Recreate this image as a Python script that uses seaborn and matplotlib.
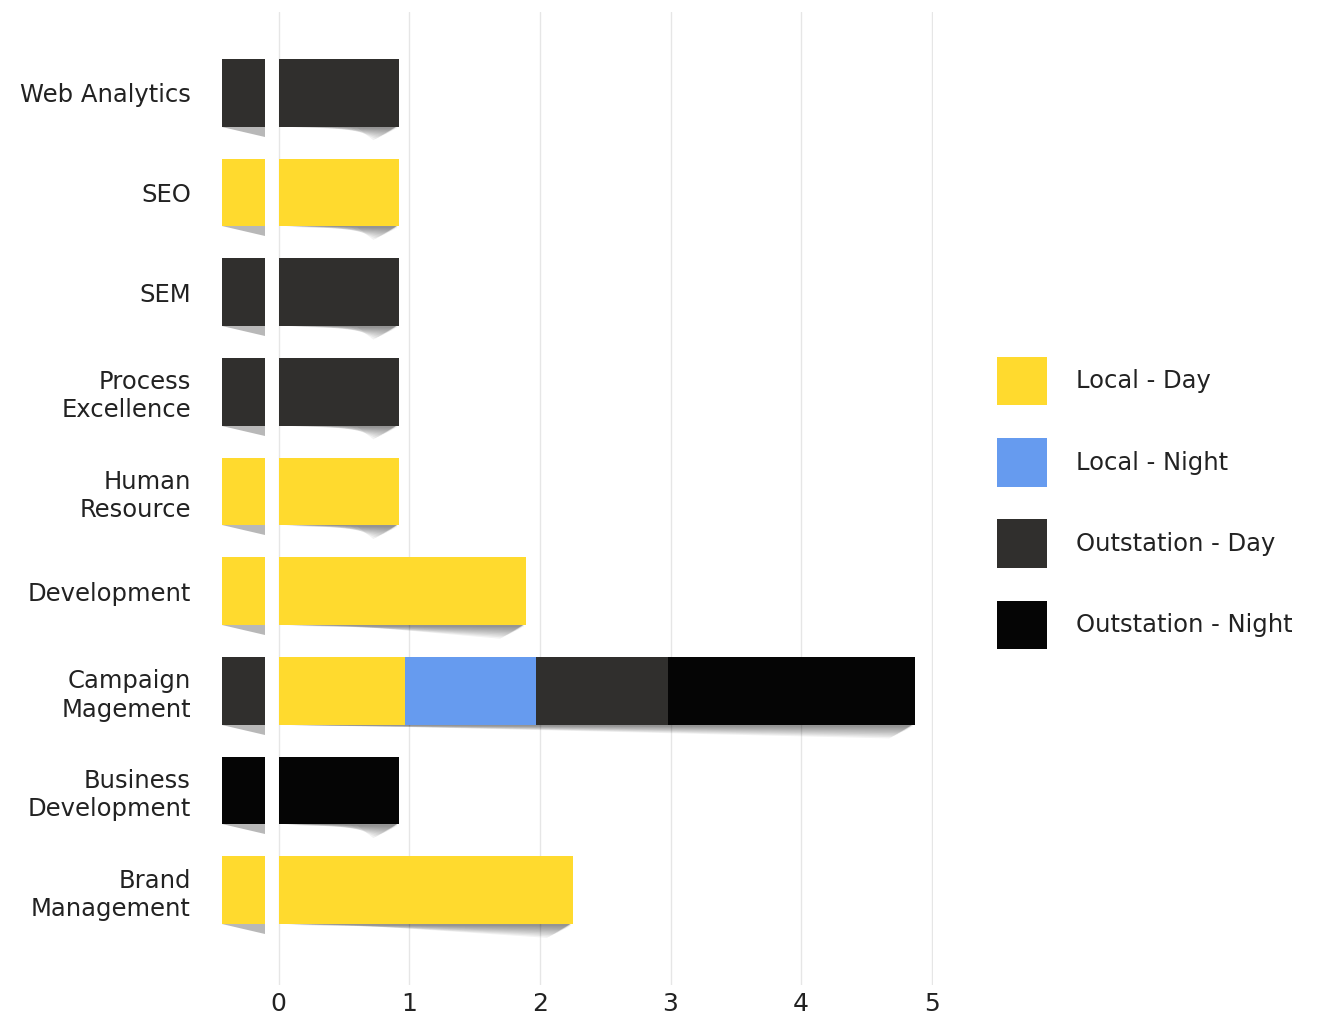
import numpy as np
import pandas as pd
import matplotlib
matplotlib.use("Agg")
import matplotlib.pyplot as plt
from matplotlib.patches import Patch, Polygon
import seaborn as sns

categories = ["Web Analytics", "SEO", "SEM", "Process\nExcellence", "Human\nResource",
              "Development", "Campaign\nMagement", "Business\nDevelopment", "Brand\nManagement"]
series = ["Local - Day", "Local - Night", "Outstation - Day", "Outstation - Night"]
local_day = [0, 0.92, 0, 0, 0.92, 1.89, 0.97, 0, 2.25]
local_night = [0, 0, 0, 0, 0, 0, 1.0, 0, 0]
out_day = [0.92, 0, 0.92, 0.92, 0, 0, 1.01, 0, 0]
out_night = [0, 0, 0, 0, 0, 0, 1.89, 0.92, 0]
tab_series = ["Outstation - Day", "Local - Day", "Outstation - Day", "Outstation - Day", "Local - Day",
              "Local - Day", "Outstation - Day", "Outstation - Night", "Local - Day"]

colors = {"Local - Day": "#FFDA2E", "Local - Night": "#669BEF",
          "Outstation - Day": "#302F2D", "Outstation - Night": "#050505"}

sns.set_theme(style="white")
plt.rcParams["font.family"] = ["DejaVu Sans"]
TXT = "#222222"
FS = 17.5

df = pd.DataFrame({"cat": categories, "Local - Day": local_day, "Local - Night": local_night,
                   "Outstation - Day": out_day, "Outstation - Night": out_night})
cum = df[series].cumsum(axis=1)

fig = plt.figure(figsize=(13.3, 10.14), dpi=100)
ax = fig.add_axes([0.1654, 0.0286, 0.5361, 0.9596])

# shadows under bars
ypos = np.arange(len(categories))
bh = 0.68
totals = cum[series[-1]].values
for i, T in enumerate(totals):
    yb = ypos[i] + bh / 2
    for k in range(10):
        d = 0.02 + 0.013 * k
        poly = Polygon([(0.0, yb - 0.01), (T - 0.01, yb - 0.01), (T - 0.015 - 0.02 * k, yb + d),
                        (0.15 + 0.05 * k, yb + 0.01)], closed=True, facecolor="#000000", alpha=0.05,
                       edgecolor="none", zorder=1)
        ax.add_patch(poly)
    # tab shadow
    tri = Polygon([(-0.437, yb), (-0.107, yb), (-0.107, yb + 0.1)], closed=True,
                  facecolor="#9a9a9a", alpha=0.7, edgecolor="none", zorder=1)
    ax.add_patch(tri)

# stacked bars via overplotting cumulative sums
for s in reversed(series):
    sns.barplot(data=cum.assign(cat=categories), x=s, y="cat", orient="h", color=colors[s],
                width=bh, saturation=1, ax=ax, zorder=3, linewidth=0)

# tabs at left
tab_cols = [colors[t] for t in tab_series]
ax.barh(ypos, [0.33] * len(categories), left=-0.437, height=bh, color=tab_cols, zorder=3,
        linewidth=0)

ax.set_xlim(-0.45, 5.01)
ax.set_ylim(len(categories) - 1 + 0.95, -0.81)
ax.set_xticks([0, 1, 2, 3, 4, 5])
ax.set_xticklabels(["0", "1", "2", "3", "4", "5"], fontsize=18, color=TXT)
ax.grid(axis="x", color="#e6e6e6", linewidth=1, zorder=0)
ax.set_axisbelow(True)
for sp in ax.spines.values():
    sp.set_visible(False)
ax.tick_params(axis="x", length=0, pad=5)
ax.tick_params(axis="y", length=0, pad=21)
ax.set_xlabel("")
ax.set_ylabel("")
for lab in ax.get_yticklabels():
    lab.set_fontsize(FS)
    lab.set_color(TXT)
    lab.set_linespacing(1.22)

handles = [Patch(facecolor=colors[s], edgecolor="none", label=s) for s in series]
leg = fig.legend(handles=handles, loc="center left", bbox_to_anchor=(0.7496, 0.504), frameon=False,
                 fontsize=FS, handlelength=2.05, handleheight=2.7, handletextpad=1.2,
                 labelspacing=1.35, labelcolor=TXT, borderaxespad=0, borderpad=0)

fig.savefig("out.png", dpi=100)
